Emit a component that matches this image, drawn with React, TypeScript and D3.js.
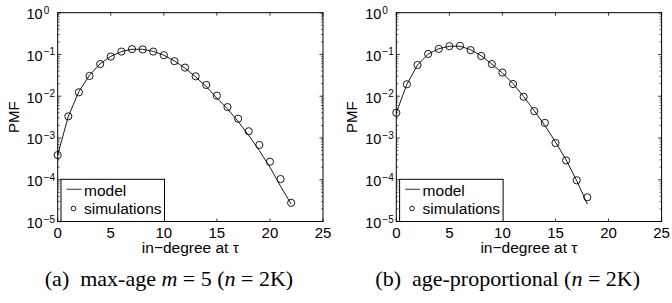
import React from "react";
import * as d3 from "d3";

// ---- data ----
const degA = [0, 1, 2, 3, 4, 5, 6, 7, 8, 9, 10, 11, 12, 13, 14, 15, 16, 17, 18, 19, 20, 21, 22];
const simA = [3.9e-4, 3.3e-3, 1.24e-2, 3.06e-2, 5.9e-2, 8.9e-2, 0.117, 0.134, 0.132, 0.117, 0.096, 0.069, 0.0485, 0.030, 0.0186, 0.0103, 5.5e-3, 2.9e-3, 1.45e-3, 6.8e-4, 2.7e-4, 1.04e-4, 2.8e-5];
const modelA = [3.9e-4, 3.3e-3, 1.3e-2, 3.2e-2, 6.0e-2, 9.0e-2, 0.117, 0.133, 0.133, 0.119, 0.096, 0.070, 0.047, 0.029, 0.017, 9.0e-3, 5.0e-3, 2.5e-3, 1.15e-3, 5.0e-4, 2.0e-4, 7.0e-5, 2.6e-5];

const degB = [0, 1, 2, 3, 4, 5, 6, 7, 8, 9, 10, 11, 12, 13, 14, 15, 16, 17, 18];
const simB = [4.0e-3, 1.93e-2, 5.6e-2, 0.103, 0.136, 0.158, 0.161, 0.127, 0.092, 0.059, 0.0368, 0.0196, 9.7e-3, 4.4e-3, 2.3e-3, 7.6e-4, 2.9e-4, 9.7e-5, 3.8e-5];
const modelB = [4.0e-3, 1.95e-2, 5.6e-2, 0.102, 0.137, 0.157, 0.158, 0.130, 0.093, 0.059, 0.036, 0.020, 9.8e-3, 4.5e-3, 2.0e-3, 8.0e-4, 3.0e-4, 9.5e-5, 2.6e-5];

const xTicks = [0, 5, 10, 15, 20, 25];
const yExponents = [0, -1, -2, -3, -4, -5];
const minorMultipliers = [2, 3, 4, 5, 6, 7, 8, 9];

const xLabel = "in\u2212degree at \u03c4";
const yLabel = "PMF";
const legendLabels = ["model", "simulations"];

const FONT = "'Liberation Sans', Arial, Helvetica, sans-serif";
const SERIF = "'Liberation Serif', 'Times New Roman', serif";

type PanelProps = {
  left: number;
  deg: number[];
  sim: number[];
  model: number[];
  caption: React.ReactNode;
  captionX: number;
};

function Panel({ left, deg, sim, model, caption, captionX }: PanelProps) {
  const top = 12.7;
  const bottom = 221.5;
  const width = 265.3;
  const x = d3.scaleLinear().domain([0, 25]).range([left, left + width]);
  const y = d3.scaleLog().domain([1e-5, 1]).range([bottom, top]);
  const line = d3
    .line<number>()
    .x((_, i) => x(deg[i]))
    .y((d) => y(d));
  const minors: number[] = [];
  yExponents.forEach((e) => {
    if (e < 0) minorMultipliers.forEach((m) => minors.push(m * Math.pow(10, e)));
  });
  const right = x(25);
  const legL = left + 3.3;
  const legT = 179.3;
  const legR = legL + 103.5;
  return (
    <g>
      {/* data */}
      <path d={line(model) || ""} fill="none" stroke="#000" strokeWidth={0.9} />
      {sim.map((v, i) => (
        <circle key={i} cx={x(deg[i])} cy={y(v)} r={3.6} fill="none" stroke="#000" strokeWidth={0.9} />
      ))}
      {/* box */}
      <rect x={left} y={top} width={width} height={bottom - top} fill="none" stroke="#000" strokeWidth={1} />
      {/* x ticks */}
      {xTicks.map((t) => (
        <g key={t}>
          <line x1={x(t)} x2={x(t)} y1={bottom} y2={bottom - 3} stroke="#000" strokeWidth={0.8} />
          <line x1={x(t)} x2={x(t)} y1={top} y2={top + 3} stroke="#000" strokeWidth={0.8} />
          <text x={x(t)} y={237.5} textAnchor="middle" fontFamily={FONT} fontSize={15}>
            {t}
          </text>
        </g>
      ))}
      {/* y ticks */}
      {yExponents.map((e) => {
        const yy = y(Math.pow(10, e));
        return (
          <g key={e}>
            <line x1={left} x2={left + 3.5} y1={yy} y2={yy} stroke="#000" strokeWidth={0.8} />
            <line x1={right} x2={right - 3.5} y1={yy} y2={yy} stroke="#000" strokeWidth={0.8} />
            <text x={left - 15} y={yy + 6.5} textAnchor="end" fontFamily={FONT} fontSize={14.5}>
              10
            </text>
            <text x={left - 14} y={yy + 1} textAnchor="start" fontFamily={FONT} fontSize={10}>
              {e === 0 ? "0" : "\u2212" + Math.abs(e)}
            </text>
          </g>
        );
      })}
      {minors.map((m, i) => {
        const yy = y(m);
        return (
          <g key={"m" + i}>
            <line x1={left} x2={left + 2} y1={yy} y2={yy} stroke="#000" strokeWidth={0.6} />
            <line x1={right} x2={right - 2} y1={yy} y2={yy} stroke="#000" strokeWidth={0.6} />
          </g>
        );
      })}
      {/* labels */}
      <text x={(left + right) / 2} y={253} textAnchor="middle" fontFamily={FONT} fontSize={15.5}>
        {xLabel}
      </text>
      <text
        transform={`translate(${left - 39},${(top + bottom) / 2}) rotate(-90)`}
        textAnchor="middle"
        fontFamily={FONT}
        fontSize={15}
      >
        {yLabel}
      </text>
      {/* legend */}
      <rect x={legL} y={legT} width={legR - legL} height={bottom - legT} fill="#fff" stroke="#000" strokeWidth={1} />
      <line x1={legL + 5.5} x2={legL + 20.5} y1={189.3} y2={189.3} stroke="#555" strokeWidth={1.2} />
      <text x={legL + 23} y={195.5} fontFamily={FONT} fontSize={15.5}>
        {legendLabels[0]}
      </text>
      <circle cx={legL + 12.5} cy={208.5} r={2.3} fill="none" stroke="#000" strokeWidth={0.9} />
      <text x={legL + 23} y={213.8} fontFamily={FONT} fontSize={15.5}>
        {legendLabels[1]}
      </text>
      {/* caption */}
      <text x={captionX} y={286} textAnchor="middle" fontFamily={SERIF} fontSize={22}>
        {caption}
      </text>
    </g>
  );
}

export default function App() {
  return (
    <svg
      width={672}
      height={303}
      style={{ position: "absolute", left: 0, top: 0, background: "#fff" }}
    >
      <rect width={672} height={303} fill="#fff" />
      <Panel
        left={57.7}
        deg={degA}
        sim={simA}
        model={modelA}
        captionX={169}
        caption={
          <>
            (a){"\u2002"}max-age <tspan fontStyle="italic">m</tspan> = 5 (<tspan fontStyle="italic">n</tspan> = 2K)
          </>
        }
      />
      <Panel
        left={396.3}
        deg={degB}
        sim={simB}
        model={modelB}
        captionX={507.7}
        caption={
          <>
            (b){"\u2002"}age-proportional (<tspan fontStyle="italic">n</tspan> = 2K)
          </>
        }
      />
    </svg>
  );
}
